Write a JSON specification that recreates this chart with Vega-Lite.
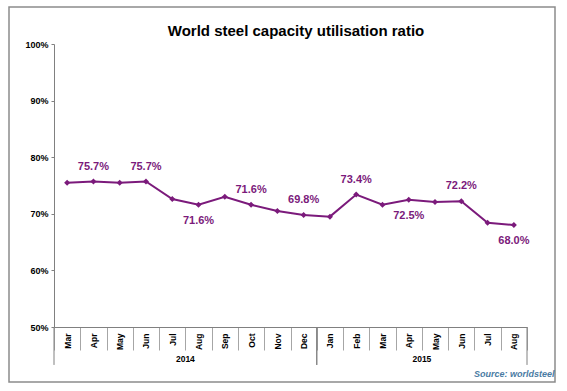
{
  "$schema": "https://vega.github.io/schema/vega-lite/v6.json",
  "width": 546,
  "height": 375,
  "autosize": {"type": "none"},
  "padding": {"left": 9, "top": 7, "right": 12, "bottom": 9},
  "background": "white",
  "config": {
    "view": {"stroke": "#8c8c8c", "strokeWidth": 1.5},
    "font": "Liberation Sans"
  },
  "title": {
    "text": "World steel capacity utilisation ratio",
    "font": "Liberation Sans",
    "fontSize": 15,
    "fontWeight": "bold",
    "color": "#000000",
    "anchor": "middle",
    "frame": "group",
    "baseline": "alphabetic",
    "offset": 0,
    "dx": 14,
    "dy": 44
  },
  "datasets": {
    "ratio": [
      {"month": "Mar 2014", "value": 0.755},
      {"month": "Apr 2014", "value": 0.757},
      {"month": "May 2014", "value": 0.755},
      {"month": "Jun 2014", "value": 0.757},
      {"month": "Jul 2014", "value": 0.726},
      {"month": "Aug 2014", "value": 0.716},
      {"month": "Sep 2014", "value": 0.730},
      {"month": "Oct 2014", "value": 0.716},
      {"month": "Nov 2014", "value": 0.705},
      {"month": "Dec 2014", "value": 0.698},
      {"month": "Jan 2015", "value": 0.695},
      {"month": "Feb 2015", "value": 0.734},
      {"month": "Mar 2015", "value": 0.716},
      {"month": "Apr 2015", "value": 0.725},
      {"month": "May 2015", "value": 0.721},
      {"month": "Jun 2015", "value": 0.722},
      {"month": "Jul 2015", "value": 0.684},
      {"month": "Aug 2015", "value": 0.680}
    ],
    "years": [
      {"year": "2014", "first": "Mar 2014", "last": "Dec 2014"},
      {"year": "2015", "first": "Jan 2015", "last": "Aug 2015"}
    ]
  },
  "encoding": {
    "x": {
      "field": "month",
      "type": "ordinal",
      "sort": null,
      "scale": {
        "domain": ["Mar 2014", "Apr 2014", "May 2014", "Jun 2014", "Jul 2014", "Aug 2014", "Sep 2014", "Oct 2014", "Nov 2014", "Dec 2014", "Jan 2015", "Feb 2015", "Mar 2015", "Apr 2015", "May 2015", "Jun 2015", "Jul 2015", "Aug 2015"],
        "range": [45, 518],
        "paddingInner": 0,
        "paddingOuter": 0
      },
      "axis": {
        "orient": "bottom",
        "offset": -55,
        "tickBand": "extent",
        "tickSize": 23,
        "tickColor": "#a6a6a6",
        "domainColor": "#808080",
        "labelAngle": -90,
        "labelAlign": "right",
        "labelBaseline": "middle",
        "labelPadding": -17,
        "labelFont": "Liberation Sans",
        "labelFontSize": 8.5,
        "labelFontWeight": "bold",
        "labelColor": "#000000",
        "labelExpr": "split(datum.label, ' ')[0]",
        "title": "Source: worldsteel",
        "titleFont": "Liberation Sans",
        "titleFontSize": 9,
        "titleFontStyle": "italic",
        "titleFontWeight": "bold",
        "titleColor": "#4a7ba3",
        "titleAlign": "right",
        "titleBaseline": "middle",
        "titleX": 545,
        "titleY": 46
      }
    },
    "y": {
      "type": "quantitative",
      "scale": {"domain": [0.5, 1], "range": [320, 37], "nice": false, "zero": false},
      "axis": {
        "orient": "left",
        "offset": -45,
        "values": [0.5, 0.6, 0.7, 0.8, 0.9, 1.0],
        "format": ".0%",
        "grid": false,
        "tickSize": 3,
        "labelPadding": 3,
        "tickColor": "#808080",
        "domainColor": "#808080",
        "labelFont": "Liberation Sans",
        "labelFontSize": 9,
        "labelFontWeight": "bold",
        "labelColor": "#000000",
        "title": null
      }
    }
  },
  "layer": [
    {
      "data": {"name": "ratio"},
      "mark": {
        "type": "line",
        "color": "#7b1a7b",
        "strokeWidth": 2,
        "point": {"shape": "diamond", "size": 36, "filled": true, "color": "#7b1a7b"}
      },
      "encoding": {"y": {"field": "value", "type": "quantitative"}}
    },
    {
      "data": {"name": "ratio"},
      "transform": [{"filter": "indexof(['Apr 2014','Jun 2014','Oct 2014','Dec 2014','Feb 2015','Jun 2015'], datum.month) >= 0"}],
      "mark": {"type": "text", "dy": -15, "fontSize": 11, "fontWeight": "bold", "color": "#7b1a7b", "font": "Liberation Sans"},
      "encoding": {
        "y": {"field": "value", "type": "quantitative"},
        "text": {"field": "value", "type": "quantitative", "format": ".1%"}
      }
    },
    {
      "data": {"name": "ratio"},
      "transform": [{"filter": "indexof(['Aug 2014','Apr 2015','Aug 2015'], datum.month) >= 0"}],
      "mark": {"type": "text", "dy": 16, "fontSize": 11, "fontWeight": "bold", "color": "#7b1a7b", "font": "Liberation Sans"},
      "encoding": {
        "y": {"field": "value", "type": "quantitative"},
        "text": {"field": "value", "type": "quantitative", "format": ".1%"}
      }
    },
    {
      "data": {"name": "years"},
      "mark": {"type": "rule", "color": "#808080", "strokeWidth": 1},
      "encoding": {
        "x": {"field": "first", "type": "ordinal", "bandPosition": 0},
        "y": {"datum": 0.5},
        "y2": {"datum": 0.433}
      }
    },
    {
      "data": {"name": "years"},
      "mark": {"type": "rule", "color": "#808080", "strokeWidth": 1},
      "encoding": {
        "x": {"field": "last", "type": "ordinal", "bandPosition": 1},
        "y": {"datum": 0.5},
        "y2": {"datum": 0.433}
      }
    },
    {
      "data": {"name": "years"},
      "transform": [{"filter": "datum.year == '2014'"}],
      "mark": {"type": "text", "fontSize": 8.5, "fontWeight": "bold", "color": "#000000", "baseline": "middle", "font": "Liberation Sans"},
      "encoding": {
        "x": {"datum": "Jul 2014", "type": "ordinal", "bandPosition": 1},
        "y": {"datum": 0.4435},
        "text": {"field": "year"}
      }
    },
    {
      "data": {"name": "years"},
      "transform": [{"filter": "datum.year == '2015'"}],
      "mark": {"type": "text", "fontSize": 8.5, "fontWeight": "bold", "color": "#000000", "baseline": "middle", "font": "Liberation Sans"},
      "encoding": {
        "x": {"datum": "Apr 2015", "type": "ordinal", "bandPosition": 1},
        "y": {"datum": 0.4435},
        "text": {"field": "year"}
      }
    }
  ]
}
